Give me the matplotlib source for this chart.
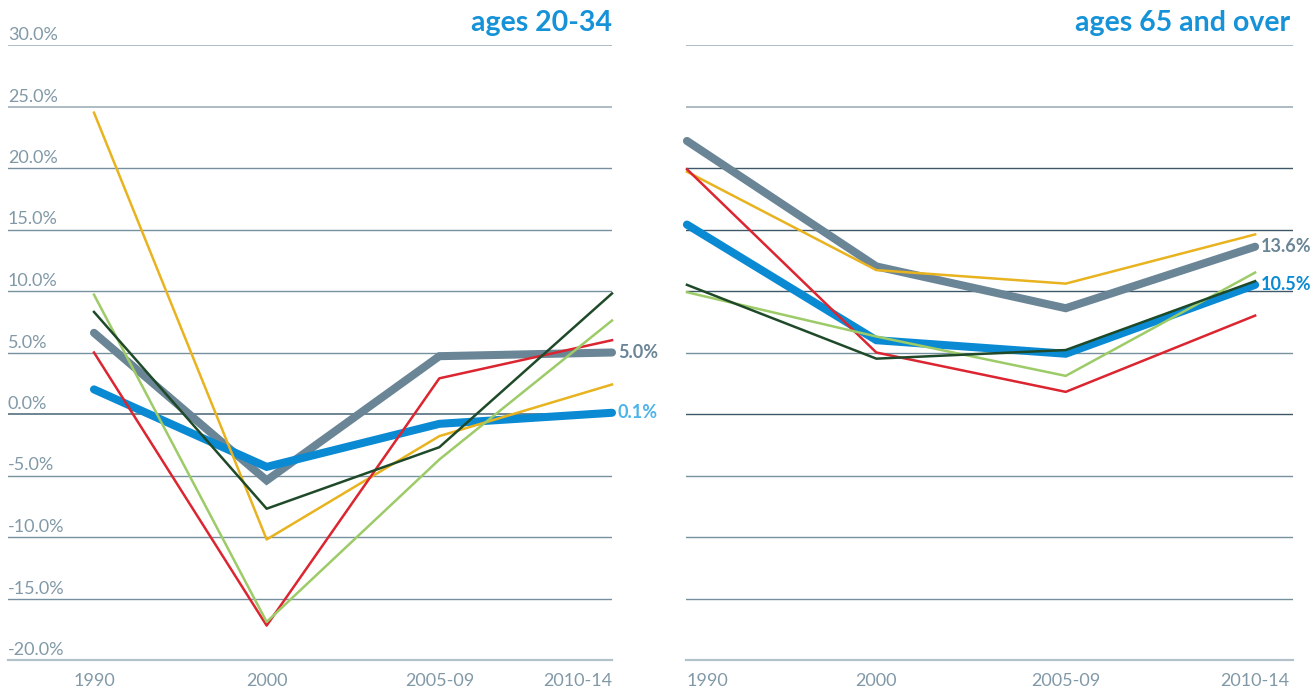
import matplotlib
matplotlib.use('Agg')
import matplotlib.pyplot as plt

periods = ['1990', '2000', '2005-09', '2010-14']
y_ticks = [30, 25, 20, 15, 10, 5, 0, -5, -10, -15, -20]

young_gray = [6.6, -5.4, 4.7, 5.0]
young_blue = [2.0, -4.3, -0.8, 0.1]
young_yellow = [24.5, -10.2, -1.8, 2.4]
young_red = [5.0, -17.2, 2.9, 6.0]
young_lightgreen = [9.7, -16.9, -3.7, 7.6]
young_darkgreen = [8.3, -7.7, -2.7, 9.8]

old_gray = [22.2, 12.0, 8.6, 13.6]
old_blue = [15.4, 6.0, 4.9, 10.5]
old_yellow = [19.7, 11.7, 10.6, 14.6]
old_red = [19.9, 5.0, 1.8, 8.0]
old_lightgreen = [9.9, 6.3, 3.1, 11.5]
old_darkgreen = [10.5, 4.5, 5.2, 10.8]

titles = ['ages 20-34', 'ages 65 and over']

GRAY = '#6a8596'
BLUE = '#0a8ad3'
LIGHTBLUE = '#4cb4ea'
YELLOW = '#e8b31f'
RED = '#db2530'
LGREEN = '#9ccb68'
DGREEN = '#1f4a29'
TICK = '#8199a7'
TITLE = '#1592d8'

plt.rcParams['font.family'] = ['Lato', 'DejaVu Sans']

W, H = 1313, 689
fig = plt.figure(figsize=(W / 100, H / 100), dpi=100)

ax1 = fig.add_axes([8 / W, (H - 660) / H, (612 - 8) / W, 615 / H])
ax2 = fig.add_axes([686 / W, (H - 660) / H, (1293 - 686) / W, 615 / H])

x = list(range(len(periods)))

panels = [
    (ax1, (young_gray, young_blue, young_yellow, young_red, young_lightgreen, young_darkgreen),
     (-0.498, 3.0), ['center', 'center', 'center', 'right'], True, (GRAY, LIGHTBLUE)),
    (ax2, (old_gray, old_blue, old_yellow, old_red, old_lightgreen, old_darkgreen),
     (-0.005, 3.2), ['left', 'center', 'center', 'center'], False, (GRAY, BLUE)),
]

for i, (ax, series, xlim, aligns, show_y, label_cols) in enumerate(panels):
    gray, blue, yellow, red, lgreen, dgreen = series
    ax.set_xlim(*xlim)
    ax.set_ylim(-20, 30)
    for s in ax.spines.values():
        s.set_visible(False)
    ax.set_yticks([])
    # gridlines
    for v in y_ticks:
        if v == -20:
            ax.axhline(v, color='#b3c2ca', lw=1.6, zorder=1, clip_on=False)
        elif v >= 25:
            ax.axhline(v, color='#95a8b4', lw=1.1, zorder=1)
        elif (not show_y) and v in (20, 15, 10, 0):
            ax.axhline(v, color='#3e586a', lw=1.0, zorder=1)
        elif v == 0:
            ax.axhline(v, color='#56707f', lw=1.2, zorder=1)
        else:
            ax.axhline(v, color='#7790a0', lw=1.0, zorder=1)
        if show_y:
            ax.annotate(f'{v:.1f}%', xy=(0, v), xycoords=('axes fraction', 'data'),
                        xytext=(0, 5), textcoords='offset pixels',
                        ha='left', va='baseline', fontsize=13, color=TICK,
                        fontweight='normal')
    # lines
    ax.plot(x, gray, color=GRAY, lw=5.8, solid_capstyle='round',
            solid_joinstyle='miter', zorder=3, clip_on=False)
    ax.plot(x, blue, color=BLUE, lw=5.8, solid_capstyle='round',
            solid_joinstyle='miter', zorder=3, clip_on=False)
    ax.plot(x, yellow, color=YELLOW, lw=1.8, zorder=4, clip_on=False)
    ax.plot(x, red, color=RED, lw=1.8, zorder=4, clip_on=False)
    ax.plot(x, lgreen, color=LGREEN, lw=1.8, zorder=4, clip_on=False)
    ax.plot(x, dgreen, color=DGREEN, lw=1.8, zorder=4, clip_on=False)
    # end labels
    for vals, col in ((gray, label_cols[0]), (blue, label_cols[1])):
        ax.annotate(f'{vals[-1]:.1f}%', xy=(x[-1], vals[-1]),
                    xytext=(6, 0), textcoords='offset pixels',
                    ha='left', va='center', fontsize=13, fontweight='bold',
                    color=col, annotation_clip=False)
    # x tick labels
    ax.set_xticks(x)
    ax.set_xticklabels(periods, fontsize=13, color=TICK, fontweight='normal')
    ax.tick_params(axis='x', length=0, pad=9)
    for lab, a in zip(ax.get_xticklabels(), aligns):
        lab.set_horizontalalignment(a)
    # title
    ax.annotate(titles[i], xy=(1, 1), xycoords='axes fraction',
                xytext=(0 if show_y else -3, 14), textcoords='offset pixels',
                ha='right', va='baseline', fontsize=20.5, fontweight='bold',
                color=TITLE)

fig.savefig('out.png', dpi=100)
